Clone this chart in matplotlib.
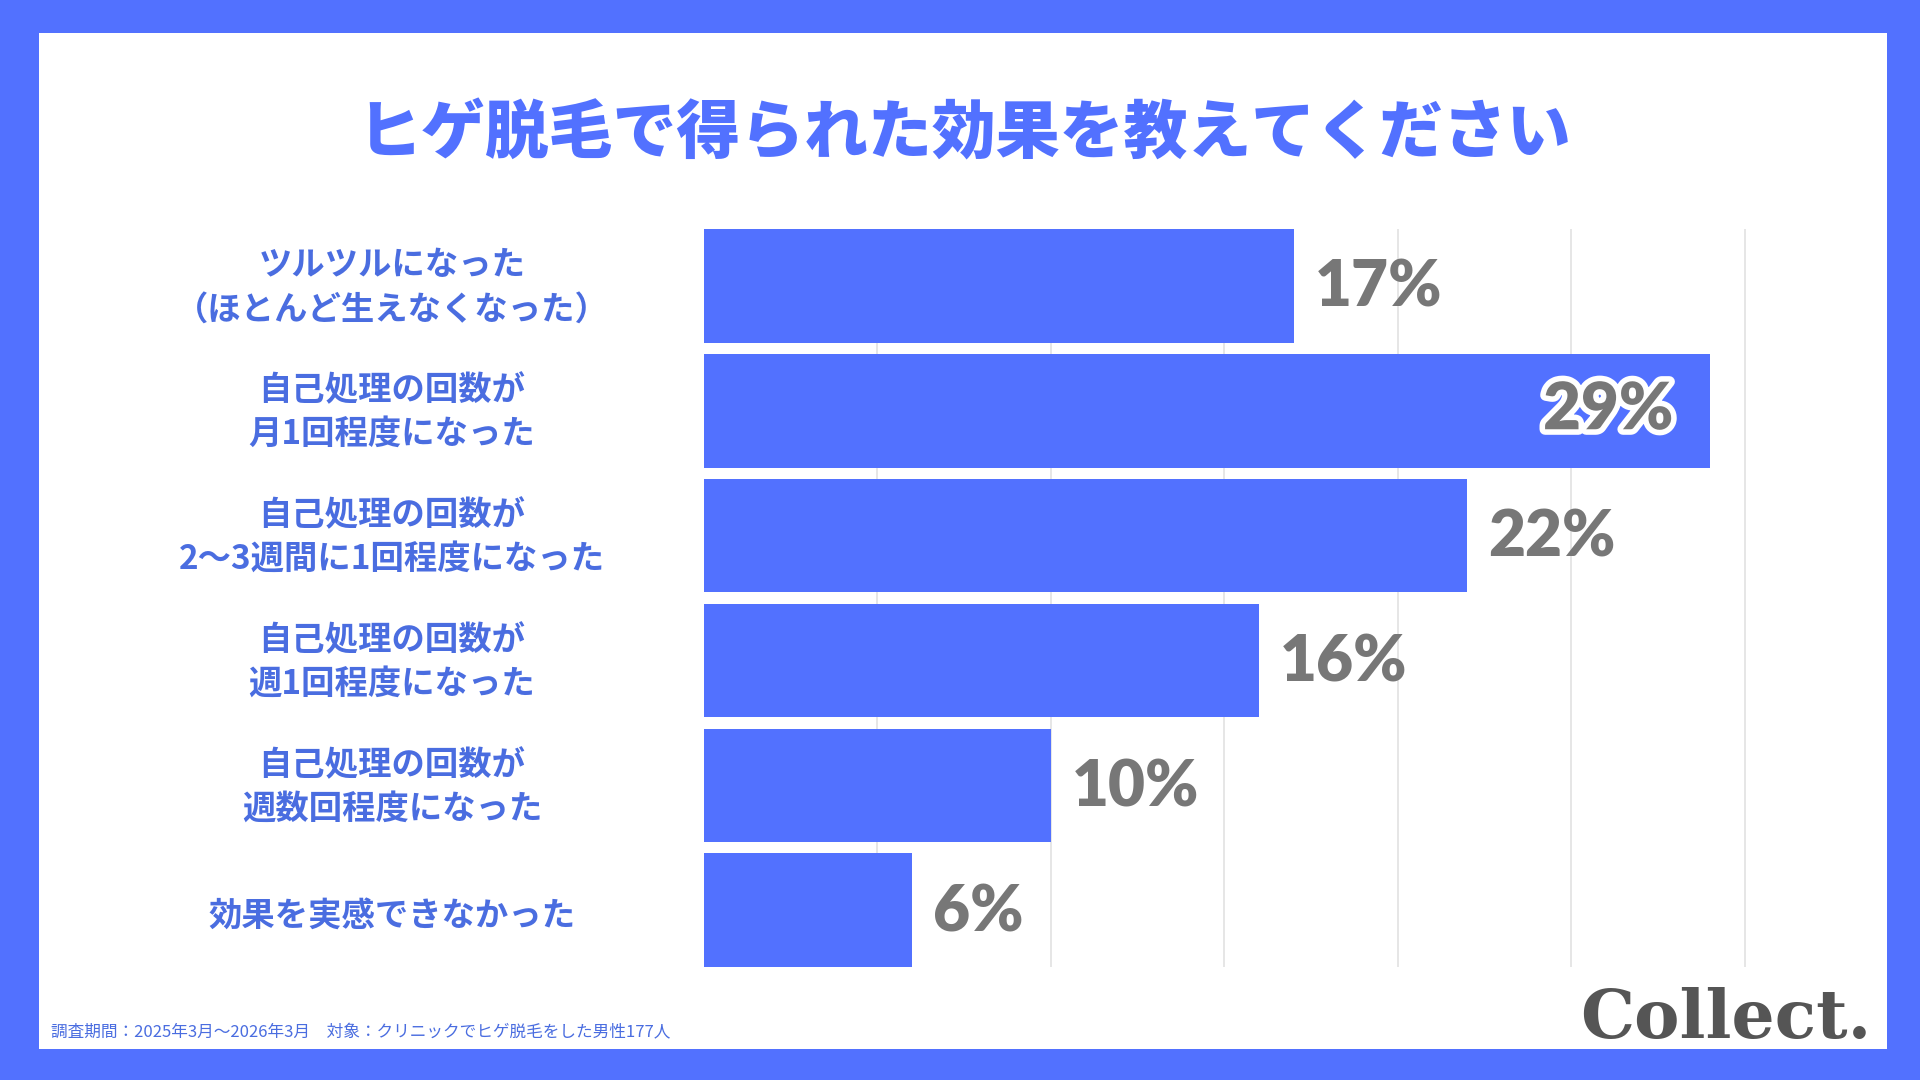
import matplotlib
matplotlib.use('Agg')
import matplotlib.pyplot as plt
import matplotlib.patheffects as pe
from matplotlib.patches import Rectangle

plt.rcParams['font.family'] = ['Noto Sans CJK JP', 'DejaVu Sans']

# data
categories = [
    'ツルツルになった\n（ほとんど生えなくなった）',
    '自己処理の回数が\n月1回程度になった',
    '自己処理の回数が\n2〜3週間に1回程度になった',
    '自己処理の回数が\n週1回程度になった',
    '自己処理の回数が\n週数回程度になった',
    '効果を実感できなかった',
]
values = [17, 29, 22, 16, 10, 6]
title = 'ヒゲ脱毛で得られた効果を教えてください'
footnote = '調査期間：2025年3月〜2026年3月　対象：クリニックでヒゲ脱毛をした男性177人'

blue = '#5271FF'
label_blue = '#4A6DE0'
grey = '#777777'

fig = plt.figure(figsize=(19.2, 10.8), dpi=100)
fig.patch.set_facecolor(blue)
fig.add_artist(Rectangle((0.0203, 0.0287), 0.9625, 0.9407, transform=fig.transFigure,
                         facecolor='white', edgecolor='none', zorder=0))

ax = fig.add_axes([0.3667, 0.1046, 0.560, 0.6833])
ax.set_facecolor('none')
y = list(range(len(values)))
ax.barh(y, values, height=0.91, color=blue, zorder=2)
ax.set_xlim(0, 31)
ax.set_ylim(len(values) - 1 + 0.455, -0.455)
ax.set_xticks([5, 10, 15, 20, 25, 30])
ax.grid(axis='x', color='#e2e2e2', linewidth=1.2, zorder=0)
ax.tick_params(axis='x', length=0, labelbottom=False)
for s in ax.spines.values():
    s.set_visible(False)

# category labels centred in the left margin
ax.set_yticks(y)
ax.set_yticklabels([])
ax.tick_params(axis='y', length=0)
for i, c in enumerate(categories):
    dy = 0.05 if '\n' not in c else 0.015
    ax.text(-9.0, i + dy, c, ha='center', va='center', fontsize=24,
            fontweight='bold', color=label_blue, linespacing=1.42,
            multialignment='center', clip_on=False)

vmax = max(values)
for i, v in enumerate(values):
    if v == vmax:
        ax.text(v - 1.05, i, f'{v}%', ha='right', va='center', fontsize=47,
                fontweight='heavy', family='Lato', color=grey, zorder=3,
                path_effects=[pe.withStroke(linewidth=8, foreground='white')])
    else:
        ax.text(v + 0.6, i + 0.02, f'{v}%', ha='left', va='center', fontsize=46,
                fontweight='heavy', family='Lato', color=grey, zorder=3)

fig.text(0.502, 0.875, title, ha='center', va='center', fontsize=46,
         fontweight='heavy', color=blue)
fig.text(0.0266, 0.044, footnote, ha='left', va='center', fontsize=12,
         color=label_blue)
fig.text(0.9745, 0.039, 'Collect.', ha='right', va='baseline', fontsize=49,
         fontweight='bold', family='DejaVu Serif', color='#555555')

fig.savefig('out.png', dpi=100, facecolor=fig.get_facecolor())
